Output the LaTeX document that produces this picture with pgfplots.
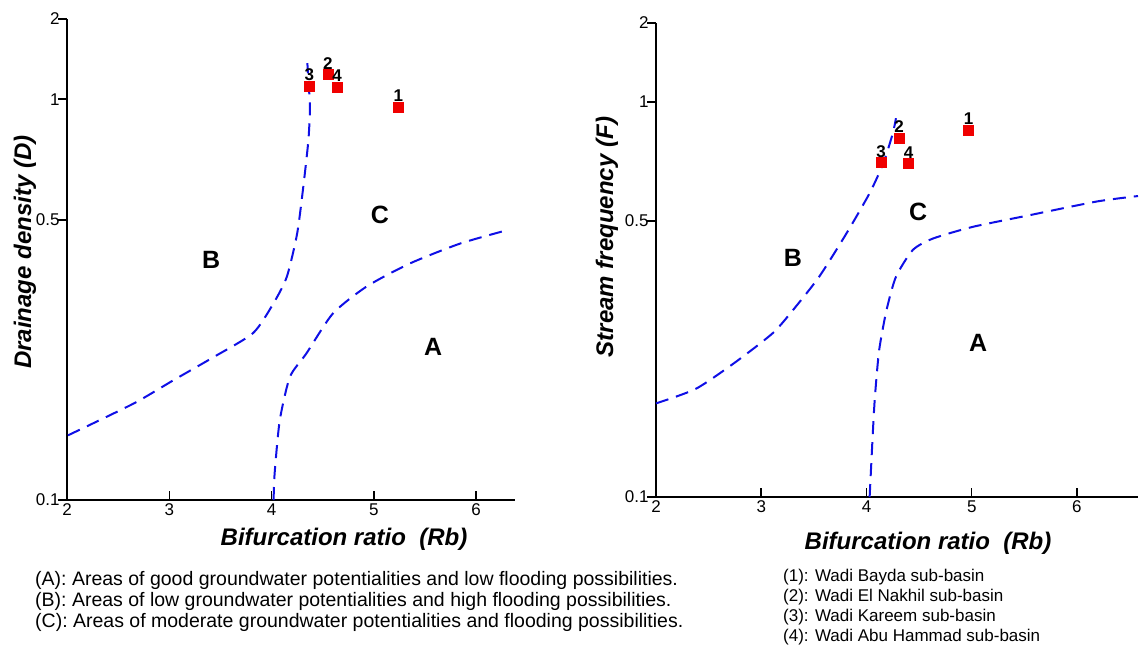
\documentclass[border=0pt]{standalone}
\usepackage{fontspec}
\setmainfont{Liberation Sans}
\usepackage{pgfplots}
\usepackage{pgfplotstable}
\pgfplotsset{compat=1.18}

\definecolor{bnd}{RGB}{15,15,230}
\definecolor{site}{RGB}{240,0,0}

% left panel: drainage density vs bifurcation ratio
\pgfplotstableread{
x y
2.01 0.145
2.65 0.174
3.04 0.199
3.43 0.227
3.82 0.261
4.02 0.310
4.15 0.361
4.25 0.462
4.31 0.604
4.36 0.790
4.375 0.953
4.36 1.115
4.35 1.23
}\leftB
\pgfplotstableread{
x y
4.02 0.100
4.03 0.1166
4.08 0.158
4.18 0.203
4.34 0.232
4.60 0.292
4.93 0.341
5.35 0.389
5.84 0.436
6.30 0.471
}\leftA
\pgfplotstableread{
x y lab
5.24 0.957 1
4.55 1.154 2
4.37 1.080 3
4.64 1.073 4
}\leftSites

% right panel: stream frequency vs bifurcation ratio
\pgfplotstableread{
x y
2.00 0.1726
2.38 0.188
2.76 0.220
3.11 0.260
3.30 0.297
3.55 0.361
3.81 0.465
4.03 0.588
4.16 0.700
4.25 0.833
4.28 0.910
}\rightB
\pgfplotstableread{
x y
4.03 0.100
4.06 0.145
4.08 0.179
4.12 0.235
4.19 0.297
4.28 0.361
4.44 0.422
4.63 0.451
5.01 0.483
5.55 0.517
6.19 0.560
6.58 0.578
}\rightA
\pgfplotstableread{
x y lab
4.97 0.849 1
4.31 0.811 2
4.14 0.703 3
4.40 0.699 4
}\rightSites

\pgfplotsset{
  boundary/.style={bnd, line width=2pt, dash pattern=on 13pt off 8pt, smooth, tension=0.4},
  sites/.style={only marks, mark=square*, mark size=5pt, color=site,
    nodes near coords, point meta=explicit symbolic,
    every node near coord/.append style={text=black, yshift=4.5pt,
      font=\bfseries\fontsize{17}{17}\selectfont, inner sep=0.5pt}},
}
\tikzset{
  regionlab/.style={font=\bfseries\fontsize{25}{25}\selectfont},
  axlab/.style={font=\bfseries\itshape\fontsize{24}{24}\selectfont},
}

\begin{document}
\begin{tikzpicture}
\path[use as bounding box] (0,0) rectangle (1140pt,-647pt);

\begin{semilogyaxis}[
    scale only axis, anchor=south west,
    axis lines=left, axis line style={line width=1.8pt,-},
    ymin=0.1, ymax=1.585, xmin=2, xmax=6.38,
    xtick={2,3,4,5,6},
    ytick={0.1,0.5,1,1.585}, yticklabels={0.1,0.5,1,2},
    yminorticks=false,
    xtick align=inside, ytick align=outside,
    major tick length=9pt,
    tick style={line width=1.5pt,black},
    /pgf/number format/assume math mode=true,
    tick label style={font=\fontsize{17}{17}\selectfont},
    yticklabel style={xshift=5pt},
    clip=false,
    at={(67pt,-500pt)}, width=448pt, height=481pt]
\addplot[boundary] table {\leftB};
\addplot[boundary] table {\leftA};
\addplot[sites] table[meta=lab] {\leftSites};
\node[regionlab] at (axis cs:5.06,0.514) {C};
\node[regionlab] at (axis cs:3.41,0.397) {B};
\node[regionlab] at (axis cs:5.58,0.241) {A};
\end{semilogyaxis}

\begin{semilogyaxis}[
    scale only axis, anchor=south west,
    axis lines=left, axis line style={line width=1.8pt,-},
    ymin=0.1, ymax=1.585, xmin=2, xmax=6.58,
    xtick={2,3,4,5,6},
    ytick={0.1,0.5,1,1.585}, yticklabels={0.1,0.5,1,2},
    yminorticks=false,
    xtick align=inside, ytick align=outside,
    major tick length=9pt,
    tick style={line width=1.5pt,black},
    /pgf/number format/assume math mode=true,
    tick label style={font=\fontsize{17}{17}\selectfont},
    yticklabel style={xshift=5pt},
    clip=false,
    at={(656pt,-497pt)}, width=482pt, height=474pt]
\addplot[boundary] table {\rightB};
\addplot[boundary] table {\rightA};
\addplot[sites] table[meta=lab] {\rightSites};
\node[regionlab] at (axis cs:4.49,0.527) {C};
\node[regionlab] at (axis cs:3.30,0.402) {B};
\node[regionlab] at (axis cs:5.06,0.245) {A};
\end{semilogyaxis}

\node[axlab, rotate=90] at (25pt,-252pt) {Drainage density (D)};
\node[axlab, rotate=90] at (607pt,-237pt) {Stream frequency (F)};
\node[axlab] at (344pt,-539pt) {Bifurcation ratio\ \ (Rb)};
\node[axlab] at (928pt,-543pt) {Bifurcation ratio\ \ (Rb)};

\begin{scope}[every node/.style={anchor=base west, inner sep=0pt, font=\fontsize{19.5}{21}\selectfont}]
\node at (35pt,-585pt) {(A): Areas of good groundwater potentialities and low flooding possibilities.};
\node at (35pt,-606pt) {(B): Areas of low groundwater potentialities and high flooding possibilities.};
\node at (35pt,-627pt) {(C): Areas of moderate groundwater potentialities and flooding possibilities.};
\end{scope}
\begin{scope}[every node/.style={anchor=base west, inner sep=0pt, font=\fontsize{17}{20}\selectfont}]
\node at (783pt,-581pt) {(1): Wadi Bayda sub-basin};
\node at (783pt,-601pt) {(2): Wadi El Nakhil sub-basin};
\node at (783pt,-621pt) {(3): Wadi Kareem sub-basin};
\node at (783pt,-641pt) {(4): Wadi Abu Hammad sub-basin};
\end{scope}
\end{tikzpicture}
\end{document}
